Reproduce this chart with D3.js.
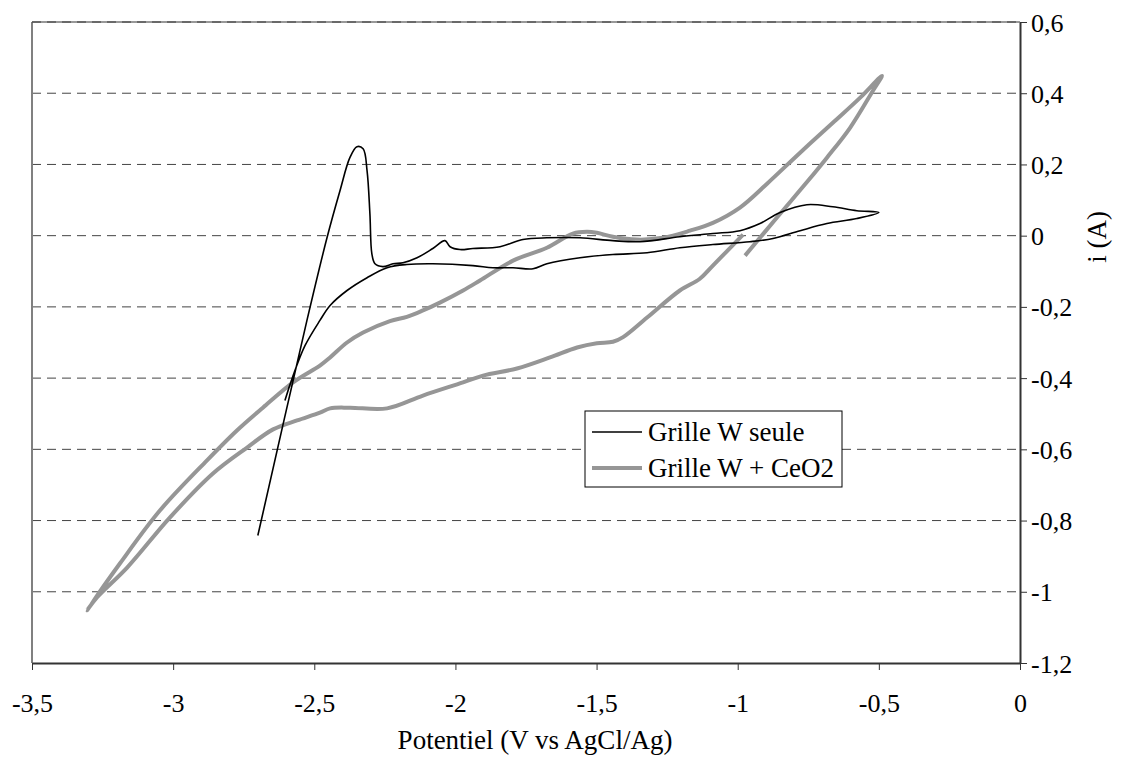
<!DOCTYPE html>
<html>
<head>
<meta charset="utf-8">
<script src="https://cdn.jsdelivr.net/npm/d3@7"></script>
<style>
    body { margin: 0; background: #fff; }
    svg { display: block; }
    text { font-family: "Liberation Serif", "Times New Roman", serif; fill: #000; }
</style>
</head>
<body>
<div id="chart"></div>
<script>
// Potential (V vs AgCl/Ag) and current i (A)
const wSeuleV = [-2.70, -2.526, -2.455, -2.409, -2.374, -2.349, -2.327, -2.313, -2.303, -2.296, -2.285, -2.257,
    -2.221, -2.186, -2.136, -2.080, -2.037, -2.019, -1.984, -1.938, -1.842, -1.761, -1.676, -1.559, -1.442,
    -1.346, -1.205, -1.088, -0.992, -0.921, -0.850, -0.755, -0.663, -0.578, -0.50,
    -0.578, -0.684, -0.779, -0.875, -0.957, -1.088, -1.205, -1.321, -1.442, -1.559, -1.676, -1.725, -1.796,
    -1.867, -1.938, -2.080, -2.172, -2.242, -2.313, -2.384, -2.444, -2.480, -2.533, -2.575, -2.604];
const wSeuleI = [-0.842, -0.238, -0.006, 0.126, 0.219, 0.250, 0.244, 0.182, 0.062, -0.051, -0.079, -0.087,
    -0.079, -0.076, -0.062, -0.036, -0.014, -0.031, -0.039, -0.036, -0.031, -0.011, -0.006, -0.006, -0.014,
    -0.017, -0.003, 0.006, 0.014, 0.034, 0.065, 0.087, 0.081, 0.070, 0.065,
    0.048, 0.034, 0.014, -0.008, -0.017, -0.025, -0.034, -0.048, -0.053, -0.062, -0.079, -0.093, -0.090,
    -0.090, -0.084, -0.079, -0.081, -0.090, -0.118, -0.154, -0.196, -0.238, -0.309, -0.393, -0.463];

const ceo2V = [-0.974, -0.861, -0.751, -0.684, -0.602, -0.521, -0.489,
    -0.567, -0.663, -0.779, -0.896, -0.992, -1.088, -1.169, -1.265, -1.357, -1.442, -1.499, -1.534, -1.584,
    -1.676, -1.796, -1.913, -1.973, -2.055, -2.115, -2.172, -2.232, -2.327, -2.384, -2.444, -2.480, -2.575,
    -2.682, -2.774, -2.880, -3.047, -3.188, -3.305,
    -3.270, -3.163, -3.011, -2.859, -2.738, -2.646, -2.561, -2.480, -2.444, -2.374, -2.242, -2.115, -1.973,
    -1.902, -1.782, -1.665, -1.569, -1.499, -1.442, -1.406, -1.321, -1.205, -1.134, -1.088, -0.981];
const ceo2I = [-0.056, 0.051, 0.154, 0.219, 0.303, 0.407, 0.449,
    0.387, 0.317, 0.233, 0.146, 0.079, 0.036, 0.014, -0.006, -0.011, -0.003, 0.008, 0.011, 0.006,
    -0.034, -0.070, -0.126, -0.154, -0.188, -0.210, -0.228, -0.240, -0.272, -0.300, -0.342, -0.365, -0.412,
    -0.483, -0.547, -0.631, -0.772, -0.920, -1.052,
    -1.016, -0.932, -0.791, -0.668, -0.595, -0.544, -0.519, -0.497, -0.485, -0.483, -0.485, -0.449, -0.412,
    -0.393, -0.373, -0.342, -0.314, -0.302, -0.298, -0.285, -0.230, -0.154, -0.121, -0.084, 0.003];

const xTicks = [-3.5, -3, -2.5, -2, -1.5, -1, -0.5, 0];
const yTicks = [0.6, 0.4, 0.2, 0, -0.2, -0.4, -0.6, -0.8, -1, -1.2];
const seriesNames = ['Grille W seule', 'Grille W + CeO2'];

const width = 1133, height = 769;
const plot = { left: 32, right: 1020, top: 22, bottom: 663 };
const fmt = d => String(d).replace('.', ',');

const svg = d3.select('#chart').append('svg')
    .attr('width', width)
    .attr('height', height);

const xScale = d3.scaleLinear().domain([-3.5, 0]).range([plot.left, plot.right]);
const yScale = d3.scaleLinear().domain([-1.2, 0.6]).range([plot.bottom, plot.top]);

// dashed gridlines
svg.append('g')
    .selectAll('line')
    .data(yTicks.filter(d => d > -1.2))
    .enter().append('line')
    .attr('x1', plot.left)
    .attr('x2', plot.right)
    .attr('y1', d => yScale(d))
    .attr('y2', d => yScale(d))
    .attr('stroke', '#444')
    .attr('stroke-width', 1)
    .attr('stroke-dasharray', '9,6');

// plot area border (left and top)
svg.append('line')
    .attr('x1', plot.left).attr('x2', plot.left)
    .attr('y1', plot.top).attr('y2', plot.bottom)
    .attr('stroke', '#808080').attr('stroke-width', 2);
svg.append('line')
    .attr('x1', plot.left).attr('x2', plot.right)
    .attr('y1', plot.top).attr('y2', plot.top)
    .attr('stroke', '#333').attr('stroke-width', 1);

const line = d3.line()
    .x(d => xScale(d[0]))
    .y(d => yScale(d[1]))
    .curve(d3.curveCatmullRom);

svg.append('path')
    .datum(ceo2V.map((v, i) => [v, ceo2I[i]]))
    .attr('fill', 'none')
    .attr('stroke', '#969696')
    .attr('stroke-width', 4)
    .attr('stroke-linejoin', 'round')
    .attr('d', line);

svg.append('path')
    .datum(wSeuleV.map((v, i) => [v, wSeuleI[i]]))
    .attr('fill', 'none')
    .attr('stroke', '#000')
    .attr('stroke-width', 1.6)
    .attr('stroke-linejoin', 'round')
    .attr('d', line);

// axes
const xAxis = svg.append('g')
    .attr('transform', `translate(0, ${plot.bottom})`)
    .call(d3.axisBottom(xScale).tickValues(xTicks).tickFormat(fmt).tickSize(7).tickSizeOuter(0).tickPadding(24));
const yAxis = svg.append('g')
    .attr('transform', `translate(${plot.right}, 0)`)
    .call(d3.axisRight(yScale).tickValues(yTicks).tickFormat(fmt).tickSize(7).tickSizeOuter(0).tickPadding(4));

[xAxis, yAxis].forEach(ax => {
    ax.select('.domain').attr('stroke', '#333').attr('stroke-width', 2);
    ax.selectAll('.tick line').attr('stroke', '#333').attr('stroke-width', 1);
    ax.selectAll('.tick text')
        .style('font-family', '"Liberation Serif", serif')
        .style('font-size', '26px')
        .attr('fill', '#000');
});
yAxis.selectAll('.tick text').attr('dy', '0.35em');

svg.append('text')
    .attr('x', 535)
    .attr('y', 749)
    .attr('text-anchor', 'middle')
    .style('font-size', '27px')
    .text('Potentiel (V vs AgCl/Ag)');

svg.append('text')
    .attr('transform', 'translate(1106, 237) rotate(-90)')
    .attr('text-anchor', 'middle')
    .style('font-size', '27px')
    .text('i (A)');

// legend
const legend = svg.append('g').attr('transform', 'translate(585, 411)');
legend.append('rect')
    .attr('width', 257)
    .attr('height', 76)
    .attr('fill', '#fff')
    .attr('stroke', '#000')
    .attr('stroke-width', 1);
const legendStyles = [{ color: '#000', w: 1.6 }, { color: '#969696', w: 4 }];
seriesNames.forEach((name, i) => {
    const y = 21 + i * 36;
    legend.append('line')
        .attr('x1', 7).attr('x2', 57)
        .attr('y1', y).attr('y2', y)
        .attr('stroke', legendStyles[i].color)
        .attr('stroke-width', legendStyles[i].w);
    legend.append('text')
        .attr('x', 63)
        .attr('y', y)
        .attr('dy', '0.35em')
        .style('font-size', '27px')
        .text(name);
});
</script>
</body>
</html>
